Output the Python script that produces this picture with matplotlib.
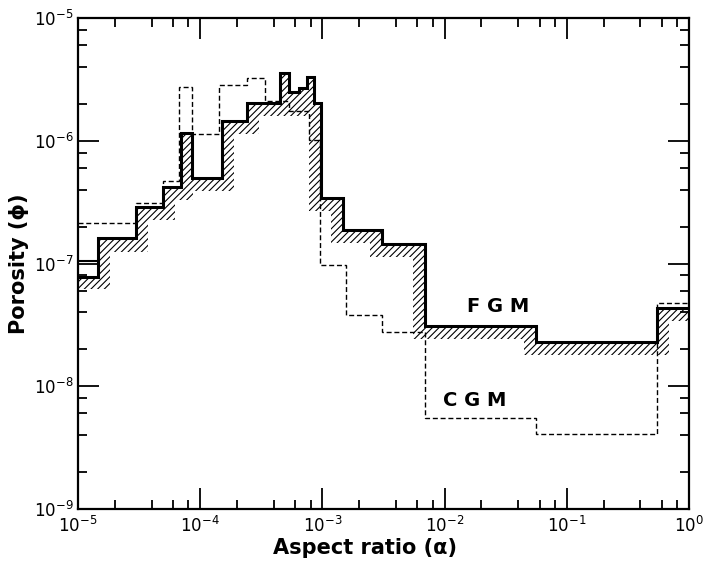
import numpy as np
import matplotlib
matplotlib.use("Agg")
import matplotlib.pyplot as plt
from matplotlib.patches import Polygon
from matplotlib.ticker import LogLocator, NullFormatter

# FGM: upper histogram (thick line) and lower edge of the hatched band
fgm_edges = [1.0e-5, 1.46e-5, 2.98e-5, 4.96e-5, 6.97e-5, 8.57e-5, 1.51e-4, 2.42e-4,
             4.50e-4, 5.33e-4, 6.42e-4, 7.48e-4, 8.53e-4, 9.75e-4, 1.48e-3, 3.08e-3,
             6.92e-3, 5.60e-2, 0.547, 1.0]
fgm_vals = [7.83e-8, 1.60e-7, 2.90e-7, 4.23e-7, 1.16e-6, 5.00e-7, 1.45e-6, 2.04e-6,
            3.57e-6, 2.50e-6, 2.70e-6, 3.31e-6, 2.04e-6, 3.44e-7, 1.89e-7, 1.45e-7,
            3.08e-8, 2.28e-8, 4.31e-8]
fgm_first_top = 1.04e-7

low_edges = [1.0e-5, 1.83e-5, 3.74e-5, 6.22e-5, 8.73e-5, 1.89e-4, 3.03e-4, 7.76e-4,
             1.17e-3, 2.45e-3, 5.51e-3, 4.47e-2, 0.686, 1.0]
low_vals = [6.15e-8, 1.25e-7, 2.28e-7, 3.31e-7, 3.92e-7, 1.14e-6, 1.60e-6, 2.70e-7,
            1.48e-7, 1.14e-7, 2.41e-8, 1.79e-8, 3.38e-8]

# CGM: dashed histogram
cgm_edges = [1.0e-5, 2.98e-5, 4.96e-5, 6.71e-5, 8.57e-5, 1.43e-4, 2.42e-4, 3.39e-4,
             5.33e-4, 7.76e-4, 9.55e-4, 1.56e-3, 3.08e-3, 6.92e-3, 5.60e-2, 0.547, 1.0]
cgm_vals = [2.15e-7, 3.13e-7, 4.73e-7, 2.75e-6, 1.14e-6, 2.85e-6, 3.25e-6, 2.11e-6,
            1.75e-6, 1.02e-6, 9.64e-8, 3.78e-8, 2.75e-8, 5.50e-9, 4.07e-9, 4.73e-8]

plt.rcParams['hatch.linewidth'] = 0.8
plt.rcParams['hatch.color'] = 'black'

fig = plt.figure(figsize=(7.06, 5.72), dpi=100)
ax = fig.add_axes([78 / 706, 1 - 509 / 572, (689 - 78) / 706, (509 - 18) / 572])
ax.set_xscale('log')
ax.set_yscale('log')
ax.set_xlim(1e-5, 1)
ax.set_ylim(1e-9, 1e-5)


def step_points(edges, vals):
    pts = []
    for i, v in enumerate(vals):
        pts.append((edges[i], v))
        pts.append((edges[i + 1], v))
    return pts


upper = step_points(fgm_edges, fgm_vals)
lower = step_points(low_edges, low_vals)[::-1]
band = Polygon(upper + lower, closed=True, facecolor='none', edgecolor='black',
               linewidth=0, hatch='/////')
ax.add_patch(band)

ax.stairs(fgm_vals, fgm_edges, color='black', linewidth=2.2, baseline=None)
ax.plot([fgm_edges[0], fgm_edges[1]], [fgm_first_top, fgm_first_top],
        color='black', linewidth=1.5)
ax.stairs(cgm_vals, cgm_edges, color='black', linewidth=1.0,
          linestyle=(0, (3.6, 2.0)), baseline=None)

ax.text(2.73e-2, 4.47e-8, 'F G M', fontsize=14, fontweight='bold',
        ha='center', va='center')
ax.text(1.77e-2, 7.69e-9, 'C G M', fontsize=14, fontweight='bold',
        ha='center', va='center')

for axis in (ax.xaxis, ax.yaxis):
    axis.set_major_locator(LogLocator(base=10, numticks=10))
    axis.set_minor_locator(LogLocator(base=10, subs=[2, 4, 6, 8], numticks=10))
    axis.set_minor_formatter(NullFormatter())

ax.tick_params(which='both', direction='in', top=True, right=True, width=1.3)
ax.tick_params(which='major', length=15, labelsize=12)
ax.tick_params(which='minor', length=6.5)
ax.tick_params(axis='x', which='major', pad=5)
ax.tick_params(axis='y', which='major', pad=3)
for sp in ax.spines.values():
    sp.set_linewidth(1.6)

ax.set_xlabel('Aspect ratio (α)', fontsize=15, fontweight='bold')
ax.set_ylabel('Porosity (ϕ)', fontsize=15, fontweight='bold')
ax.xaxis.set_label_coords(0.47, -0.06)
ax.xaxis.label.set_va('top')
ax.yaxis.set_label_coords(-0.08, 0.5)

fig.savefig('out.png', dpi=100)
